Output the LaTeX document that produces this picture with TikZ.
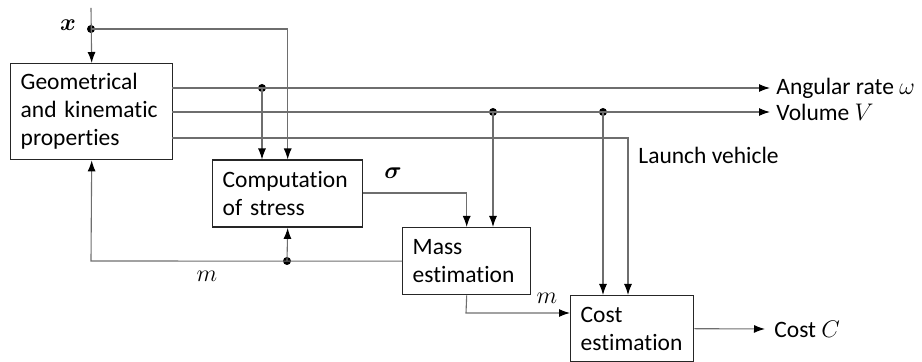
\documentclass[tikz,border=0pt]{standalone}
\usepackage{amsmath,bm}
\usepackage{fontspec}
\setmainfont{Carlito}[Ligatures=NoCommon]
\usetikzlibrary{arrows.meta,calc}
\definecolor{wire}{RGB}{110,110,110}
\begin{document}
\begin{tikzpicture}[x=0.5pt,y=-0.5pt,
  font=\fontsize{11.75}{14}\selectfont,
  box/.style={draw=black!85, line width=0.7pt, anchor=north west, align=left, inner xsep=5pt, inner ysep=0pt},
  wireline/.style={draw=wire, line width=0.55pt},
  arr/.style={wireline, -{Latex[length=5.5pt,width=4pt,color=black]}},
  dot/.style={circle, fill=black, inner sep=0pt, minimum size=4pt},
  lbl/.style={inner sep=0pt},
  mlbl/.style={inner sep=0pt, font=\fontsize{13}{14}\selectfont}]
\useasboundingbox (0,0) rectangle (922,362);

% boxes
\node[box, text width=71pt, minimum height=48pt] (geo) at (10,63) {Geometrical\\and kinematic\\properties};
\node[box, text width=65pt, minimum height=33.5pt] (comp) at (212,159.5) {Computation\\of stress};
\node[box, text width=54pt, minimum height=33.5pt] (mass) at (402,227) {Mass\\estimation};
\node[box, text width=51.5pt, minimum height=33pt] (cost) at (570,295) {Cost\\estimation};

% coordinates
\coordinate (xin) at (91,8);
\node[dot] (xd) at (91,29) {};
\node[dot] (d1) at (262,88) {};
\node[dot] (d2) at (493,112) {};
\node[dot] (d3) at (603,112) {};
\node[dot] (d4) at (287,261) {};
\coordinate (g1) at (172,88);
\coordinate (g2) at (172,112);
\coordinate (g3) at (172,138);
\coordinate (wend) at (770,88);
\coordinate (vend) at (770,112);
\coordinate (lvc) at (628,138);
\coordinate (fb) at (91,261);
\coordinate (mturn) at (466,313);
\coordinate (cend) at (765,329);

% labels
\node[mlbl] (xl) at (68,25) {$\bm{x}$};
\node[lbl, anchor=west] (wl) at (776,88) {Angular rate {\fontsize{13}{14}\selectfont$\omega$}};
\node[lbl, anchor=west] (vl) at (776,112) {Volume {\fontsize{13}{14}\selectfont$V$}};
\node[lbl, anchor=west] (ll) at (638,155) {Launch vehicle};
\node[mlbl] (sl) at (393,173) {$\bm{\sigma}$};
\node[mlbl] (ml1) at (207,276) {$m$};
\node[mlbl] (ml2) at (547,298) {$m$};
\node[lbl, anchor=west] (cl) at (774,329) {Cost {\fontsize{13}{14}\selectfont$C$}};

% connectors
\draw[arr] (xin) -- (geo.north);
\draw[arr] (xd.center) -| (comp.north);
\draw[arr] (g1) -- (wend);
\draw[arr] (d1.center) -- (d1.center |- comp.north);
\draw[arr] (g2) -- (vend);
\draw[arr] (d2.center) -- (d2.center |- mass.north);
\draw[arr] (d3.center) -- (d3.center |- cost.north);
\draw[arr] (g3) -- (lvc) -- (lvc |- cost.north);
\draw[arr] (comp.east |- 0,193) -| (mass.north);
\draw[arr] (mass.west) -- (fb) -- (geo.south);
\draw[arr] (d4.center) -- (comp.south);
\draw[arr] (mass.south) -- (mturn) -- (mturn -| cost.west);
\draw[arr] (cost.east) -- (cend);
\end{tikzpicture}
\end{document}
